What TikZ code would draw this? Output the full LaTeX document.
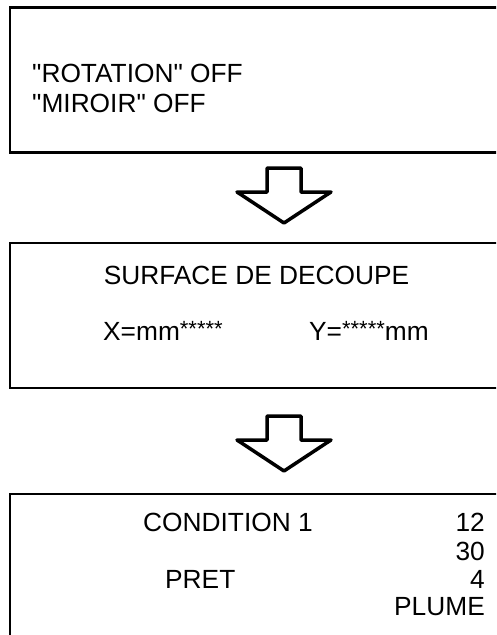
\documentclass[tikz,border=0pt]{standalone}
\usepackage{fontspec}
\setmainfont{Liberation Sans}
\newfontfamily\plainsans{Liberation Sans}
\newcommand{\smallstars}{\raisebox{3.2pt}{\fontsize{22}{26}\selectfont *****}}
\begin{document}
\begin{tikzpicture}[x=1pt,y=-1pt,
  screen/.style={draw=black,line width=2.5pt},
  blockarrow/.style={draw=black,line width=3.5pt,line join=round,fill=white},
  txt/.style={inner sep=0pt,font=\plainsans\fontsize{26.3}{31}\selectfont}]
\useasboundingbox (0,0) rectangle (496,635);
\clip (0,0) rectangle (496,635);
% screens
\draw[screen] (10,7.5) rectangle (515,152.5);
\draw[screen] (10,243) rectangle (515,388);
\draw[screen] (10,494) rectangle (515,660);
% block arrows
\newcommand{\downarrowshape}[1]{%
  \draw[blockarrow] (267,#1) -- (301,#1) -- (301,#1+24) -- (331,#1+24)
    -- (284,#1+55) -- (237,#1+24) -- (267,#1+24) -- cycle;}
\downarrowshape{168}
\downarrowshape{416}
% texts screen 1
\node[txt,anchor=base west] (rot) at (32,82) {"ROTATION" OFF};
\node[txt,anchor=base west] (mir) at (32,112) {"MIROIR" OFF};
% screen 2
\node[txt,anchor=base] (surf) at (256.5,284.5) {SURFACE DE DECOUPE};
\node[txt,anchor=base west] (xv) at (103,340) {X=mm\smallstars};
\node[txt,anchor=base west] (yv) at (309,340) {Y=\smallstars mm};
% screen 3
\node[txt,anchor=base west] (cond) at (143,531) {CONDITION 1};
\node[txt,anchor=base west] (pret) at (165,588) {PRET};
\node[txt,anchor=base east] (v1) at (485,531) {12};
\node[txt,anchor=base east] (v2) at (485,560) {30};
\node[txt,anchor=base east] (v3) at (485,588) {4};
\node[txt,anchor=base east] (v4) at (485,615) {PLUME};
\end{tikzpicture}
\end{document}
